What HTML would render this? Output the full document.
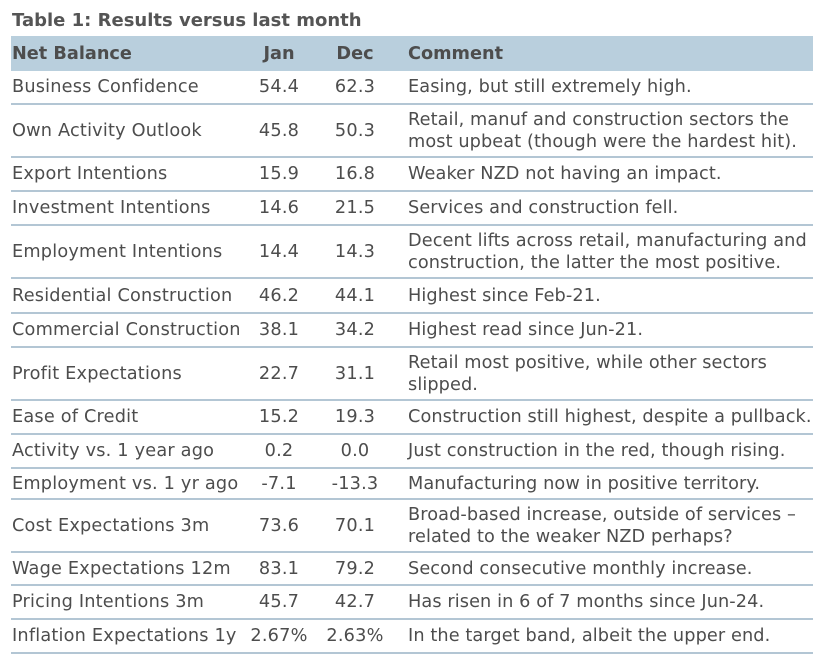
<!DOCTYPE html>
<html><head><meta charset="utf-8"><style>
html,body{margin:0;padding:0;background:#fff;}
body{width:825px;height:661px;position:relative;overflow:hidden;font-family:"DejaVu Sans","Liberation Sans",sans-serif;color:#4d4d4d;font-size:17.7px;}
.title{position:absolute;left:12px;top:9px;font-weight:bold;font-size:18px;line-height:24px;white-space:nowrap;color:#555;}
.hdr{position:absolute;left:11px;top:36px;width:802px;height:35px;background:#b9cfdd;}
.row{position:absolute;left:11px;width:802px;letter-spacing:0.2px;}
.line{position:absolute;left:11px;width:802px;height:2px;background:#b3c6d4;}
.c{position:absolute;top:0;height:100%;display:flex;align-items:center;white-space:nowrap;line-height:22px;}
.l{left:1px;}
.j{left:229px;width:78px;justify-content:center;}
.d{left:305px;width:78px;justify-content:center;}
.m{left:397px;}
.row .m{letter-spacing:0.1px;}
.b{font-weight:bold;}
</style></head><body>
<div class="title">Table 1: Results versus last month</div>
<div class="hdr">
 <div class="c l b">Net Balance</div>
 <div class="c j b">Jan</div>
 <div class="c d b">Dec</div>
 <div class="c m b">Comment</div>
</div>

<div class="row" style="top:71px;height:32px"><div class="c l">Business Confidence</div><div class="c j">54.4</div><div class="c d">62.3</div><div class="c m">Easing, but still extremely high.</div></div>
<div class="line" style="top:103px"></div>

<div class="row" style="top:105px;height:51px"><div class="c l">Own Activity Outlook</div><div class="c j">45.8</div><div class="c d">50.3</div><div class="c m">Retail, manuf and construction sectors the<br>most upbeat (though were the hardest hit).</div></div>
<div class="line" style="top:156px"></div>

<div class="row" style="top:158px;height:32px"><div class="c l">Export Intentions</div><div class="c j">15.9</div><div class="c d">16.8</div><div class="c m">Weaker NZD not having an impact.</div></div>
<div class="line" style="top:190px"></div>

<div class="row" style="top:192px;height:32px"><div class="c l">Investment Intentions</div><div class="c j">14.6</div><div class="c d">21.5</div><div class="c m">Services and construction fell.</div></div>
<div class="line" style="top:224px"></div>

<div class="row" style="top:226px;height:51px"><div class="c l">Employment Intentions</div><div class="c j">14.4</div><div class="c d">14.3</div><div class="c m">Decent lifts across retail, manufacturing and<br>construction, the latter the most positive.</div></div>
<div class="line" style="top:277px"></div>

<div class="row" style="top:279px;height:33px"><div class="c l">Residential Construction</div><div class="c j">46.2</div><div class="c d">44.1</div><div class="c m">Highest since Feb-21.</div></div>
<div class="line" style="top:312px"></div>

<div class="row" style="top:314px;height:32px"><div class="c l">Commercial Construction</div><div class="c j">38.1</div><div class="c d">34.2</div><div class="c m">Highest read since Jun-21.</div></div>
<div class="line" style="top:346px"></div>

<div class="row" style="top:348px;height:51px"><div class="c l">Profit Expectations</div><div class="c j">22.7</div><div class="c d">31.1</div><div class="c m">Retail most positive, while other sectors<br>slipped.</div></div>
<div class="line" style="top:399px"></div>

<div class="row" style="top:401px;height:32px"><div class="c l">Ease of Credit</div><div class="c j">15.2</div><div class="c d">19.3</div><div class="c m">Construction still highest, despite a pullback.</div></div>
<div class="line" style="top:433px"></div>

<div class="row" style="top:435px;height:32px"><div class="c l">Activity vs. 1 year ago</div><div class="c j">0.2</div><div class="c d">0.0</div><div class="c m">Just construction in the red, though rising.</div></div>
<div class="line" style="top:467px"></div>

<div class="row" style="top:469px;height:29px"><div class="c l">Employment vs. 1 yr ago</div><div class="c j">-7.1</div><div class="c d">-13.3</div><div class="c m">Manufacturing now in positive territory.</div></div>
<div class="line" style="top:498px"></div>

<div class="row" style="top:500px;height:51px"><div class="c l">Cost Expectations 3m</div><div class="c j">73.6</div><div class="c d">70.1</div><div class="c m">Broad-based increase, outside of services –<br>related to the weaker NZD perhaps?</div></div>
<div class="line" style="top:551px"></div>

<div class="row" style="top:553px;height:31px"><div class="c l">Wage Expectations 12m</div><div class="c j">83.1</div><div class="c d">79.2</div><div class="c m">Second consecutive monthly increase.</div></div>
<div class="line" style="top:584px"></div>

<div class="row" style="top:586px;height:32px"><div class="c l">Pricing Intentions 3m</div><div class="c j">45.7</div><div class="c d">42.7</div><div class="c m">Has risen in 6 of 7 months since Jun-24.</div></div>
<div class="line" style="top:618px"></div>

<div class="row" style="top:620px;height:32px"><div class="c l">Inflation Expectations 1y</div><div class="c j">2.67%</div><div class="c d">2.63%</div><div class="c m">In the target band, albeit the upper end.</div></div>
<div class="line" style="top:652px"></div>
</body></html>
